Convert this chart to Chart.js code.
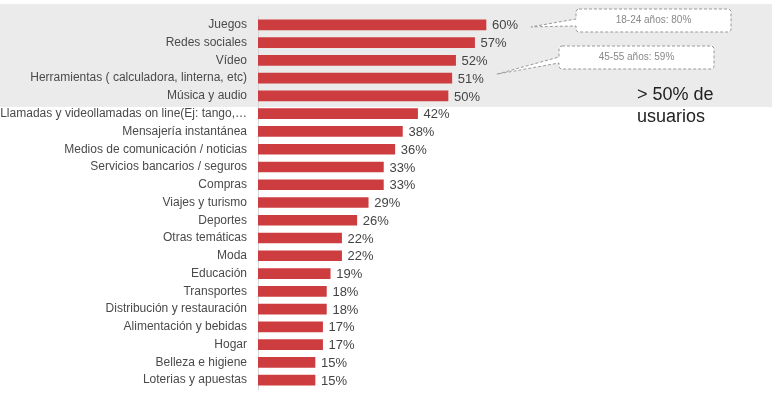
<!DOCTYPE html>
<html>
<head>
<meta charset="utf-8">
<script src="https://cdn.jsdelivr.net/npm/chart.js@4.4.1/dist/chart.umd.min.js"></script>
<style>
	html, body { margin: 0; padding: 0; background: #fff; }
	#caja { position: relative; width: 775px; height: 393px; }
</style>
</head>
<body>
<div id="caja"><canvas id="grafico_usos"></canvas></div>
<script>
var categorias = [
	"Juegos",
	"Redes sociales",
	"Vídeo",
	"Herramientas ( calculadora, linterna, etc)",
	"Música y audio",
	"Llamadas y videollamadas on line(Ej: tango,…",
	"Mensajería instantánea",
	"Medios de comunicación / noticias",
	"Servicios bancarios / seguros",
	"Compras",
	"Viajes y turismo",
	"Deportes",
	"Otras temáticas",
	"Moda",
	"Educación",
	"Transportes",
	"Distribución y restauración",
	"Alimentación y bebidas",
	"Hogar",
	"Belleza e higiene",
	"Loterias y apuestas",
];
var porcentajes = [60, 57, 52, 51, 50, 42, 38, 36, 33, 33, 29, 26, 22, 22, 19, 18, 18, 17, 17, 15, 15];

// notas sobre algunas categorias (indice de la categoria, texto)
var notas_indice = [0, 3];
var notas_texto = ["18-24 años: 80%", "45-55 años: 59%"];

// las primeras categorias que superan el 50%
var destacadas = 5;
var texto_destacado = ["> 50% de", "usuarios"];

var fuente = "'Liberation Sans', Arial, sans-serif";

// fondo gris detras de las categorias destacadas
var pluginFondo = {
	id: "fondo",
	beforeDraw: function (chart) {
		var ctx = chart.ctx;
		var y = chart.scales.y;
		var arriba = y.getPixelForValue(0) - 21;
		var abajo = y.getPixelForValue(destacadas - 1) + 11;
		ctx.save();
		ctx.fillStyle = "#ebebeb";
		ctx.fillRect(0, arriba, 772, abajo - arriba);
		ctx.restore();
	},
};

// porcentaje al final de cada barra
var pluginValores = {
	id: "valores",
	afterDatasetsDraw: function (chart) {
		var ctx = chart.ctx;
		var meta = chart.getDatasetMeta(0);
		ctx.save();
		ctx.font = "13px " + fuente;
		ctx.fillStyle = "#444";
		ctx.textBaseline = "middle";
		meta.data.forEach(function (barra, i) {
			ctx.fillText(porcentajes[i] + "%", barra.x + 6, barra.y + 1);
		});
		ctx.restore();
	},
};

function dibujarNota(ctx, caja, punta, texto) {
	var r = 3;
	var x = caja.x, y = caja.y, w = caja.w, h = caja.h;
	ctx.beginPath();
	ctx.moveTo(x + r, y);
	ctx.lineTo(x + w - r, y);
	ctx.arcTo(x + w, y, x + w, y + r, r);
	ctx.lineTo(x + w, y + h - r);
	ctx.arcTo(x + w, y + h, x + w - r, y + h, r);
	ctx.lineTo(x + r, y + h);
	ctx.arcTo(x, y + h, x, y + h - r, r);
	ctx.lineTo(x, caja.cola2);
	ctx.lineTo(punta.x, punta.y);
	ctx.lineTo(x, caja.cola1);
	ctx.lineTo(x, y + r);
	ctx.arcTo(x, y, x + r, y, r);
	ctx.closePath();
	ctx.fillStyle = "#fff";
	ctx.fill();
	ctx.setLineDash([3, 2]);
	ctx.strokeStyle = "#9a9a9a";
	ctx.lineWidth = 1;
	ctx.stroke();
	ctx.setLineDash([]);
	ctx.fillStyle = "#888";
	ctx.font = "10px " + fuente;
	ctx.textAlign = "center";
	ctx.textBaseline = "middle";
	ctx.fillText(texto, x + w / 2, y + h / 2);
}

var pluginNotas = {
	id: "notas",
	afterDraw: function (chart) {
		var ctx = chart.ctx;
		var sx = chart.scales.x;
		var sy = chart.scales.y;
		var cajas = [
			{ x: 576, y: 9, w: 155, h: 23, cola1: 19, cola2: 26, dy: 2 },
			{ x: 559, y: 46, w: 155, h: 23, cola1: 57, cola2: 63, dy: -4 },
		];
		ctx.save();
		notas_indice.forEach(function (idx, i) {
			var punta = {
				x: sx.getPixelForValue(porcentajes[idx]) + 45,
				y: sy.getPixelForValue(idx) + cajas[i].dy,
			};
			dibujarNota(ctx, cajas[i], punta, notas_texto[i]);
		});

		ctx.fillStyle = "#222";
		ctx.font = "18px " + fuente;
		ctx.textAlign = "left";
		ctx.textBaseline = "alphabetic";
		ctx.fillText(texto_destacado[0], 637, 100);
		ctx.fillText(texto_destacado[1], 637, 122);
		ctx.restore();
	},
};

var config_barras = {
	type: "bar",
	data: {
		labels: categorias,
		datasets: [
			{
				label: "Usuarios",
				data: porcentajes,
				backgroundColor: "#cd3c3f",
				barThickness: 10,
			},
		],
	},
	options: {
		indexAxis: "y",
		responsive: true,
		maintainAspectRatio: false,
		animation: false,
		layout: {
			padding: { left: 0, right: 137, top: 16, bottom: 4 },
		},
		scales: {
			x: {
				display: false,
				min: 0,
				max: 100,
			},
			y: {
				afterFit: function (escala) {
					escala.width = 258;
					escala.paddingTop = 0;
					escala.paddingBottom = 0;
				},
				grid: { display: false },
				border: { display: true, color: "#d6d6d6", width: 1 },
				ticks: {
					autoSkip: false,
					padding: 3,
					color: "#4a4a4a",
					font: { family: fuente, size: 12 },
				},
			},
		},
		plugins: {
			legend: { display: false },
			tooltip: { enabled: false },
		},
	},
	plugins: [pluginFondo, pluginValores, pluginNotas],
};

var chart_usos = new Chart(document.getElementById("grafico_usos"), config_barras);
</script>
</body>
</html>
